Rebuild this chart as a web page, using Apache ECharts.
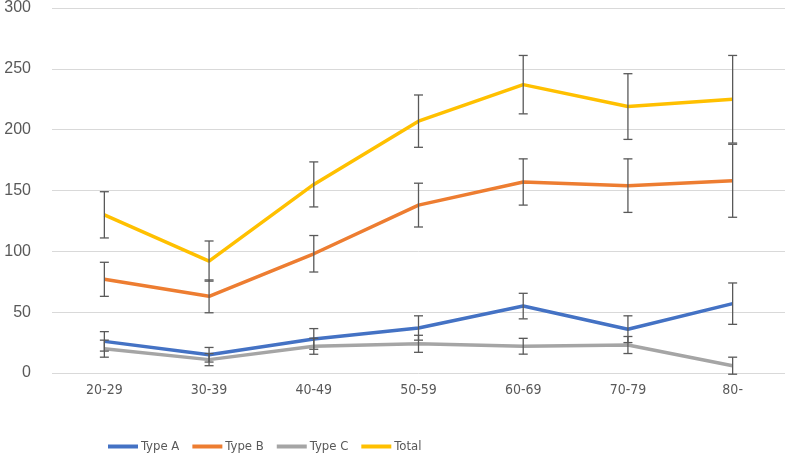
<!DOCTYPE html>
<html>
<head>
<meta charset="utf-8">
<script src="https://cdn.jsdelivr.net/npm/echarts@6/dist/echarts.min.js"></script>
<style>html,body{margin:0;padding:0;background:#fff;}#c{width:787px;height:456px;}</style>
</head>
<body>
<div id="c"></div>
<script>
const categories = ['20-29','30-39','40-49','50-59','60-69','70-79','80-'];
const typeA = [26, 15, 28, 37, 55, 36, 57];
const typeB = [77, 63, 98, 138, 157, 154, 158];
const typeC = [20, 11, 22, 24, 22, 23, 6];
const total = [130, 92, 155, 207, 237, 219, 225];
const errA = [8, 6, 8.5, 10, 10.5, 11, 17];
const errB = [14, 13.5, 15, 18, 19, 22, 30];
const errC = [7, 5, 6.6, 7, 6.5, 7, 7];
const errTotal = [19, 16.5, 18.5, 21.5, 24, 27, 36];
const yTicks = [0, 50, 100, 150, 200, 250, 300];

const names = ['Type A','Type B','Type C','Total'];
const colors = ['#4472C4','#ED7D31','#A5A5A5','#FFC000'];
const vals = [typeA, typeB, typeC, total];
const errs = [errA, errB, errC, errTotal];
const font = "'DejaVu Sans Condensed', 'Liberation Sans Narrow', sans-serif";

const series = [];
vals.forEach((v, i) => {
  series.push({
    name: names[i], type: 'line', data: v, symbol: 'none',
    lineStyle: {width: 3.5, color: colors[i]}, itemStyle: {color: colors[i]}, z: 2
  });
});
vals.forEach((v, i) => {
  series.push({
    type: 'custom', z: 5, silent: true,
    data: v.map((y, k) => [k, y - errs[i][k], y + errs[i][k]]),
    renderItem: function (params, api) {
      const lo = api.coord([api.value(0), api.value(1)]);
      const hi = api.coord([api.value(0), api.value(2)]);
      const w = 4.5;
      const st = {stroke: '#595959', lineWidth: 1.3};
      return {type: 'group', children: [
        {type: 'line', shape: {x1: hi[0], y1: hi[1], x2: lo[0], y2: lo[1]}, style: st},
        {type: 'line', shape: {x1: hi[0]-w, y1: hi[1], x2: hi[0]+w, y2: hi[1]}, style: st},
        {type: 'line', shape: {x1: lo[0]-w, y1: lo[1], x2: lo[0]+w, y2: lo[1]}, style: st}
      ]};
    }
  });
});

const chart = echarts.init(document.getElementById('c'));
chart.setOption({
  animation: false,
  backgroundColor: '#fff',
  grid: {left: 52, right: 2, top: 8, bottom: 83},
  legend: {
    data: names, left: 103, top: 435, icon: 'rect', itemWidth: 30, itemHeight: 4, itemGap: 13,
    textStyle: {fontFamily: font, fontSize: 13, color: '#595959', padding: [0,0,0,-2]}
  },
  xAxis: {
    type: 'category', data: categories, boundaryGap: true,
    axisLine: {show: false}, axisTick: {show: false},
    axisLabel: {fontFamily: font, fontSize: 14, color: '#595959', margin: 10}
  },
  yAxis: {
    type: 'value', min: yTicks[0], max: yTicks[yTicks.length-1], interval: 50,
    axisLine: {show: false}, axisTick: {show: false},
    axisLabel: {fontFamily: "'Liberation Sans', sans-serif", fontSize: 16, color: '#595959', margin: 21},
    splitLine: {lineStyle: {color: '#D9D9D9', width: 1}}
  },
  series: series
});
</script>
</body>
</html>
